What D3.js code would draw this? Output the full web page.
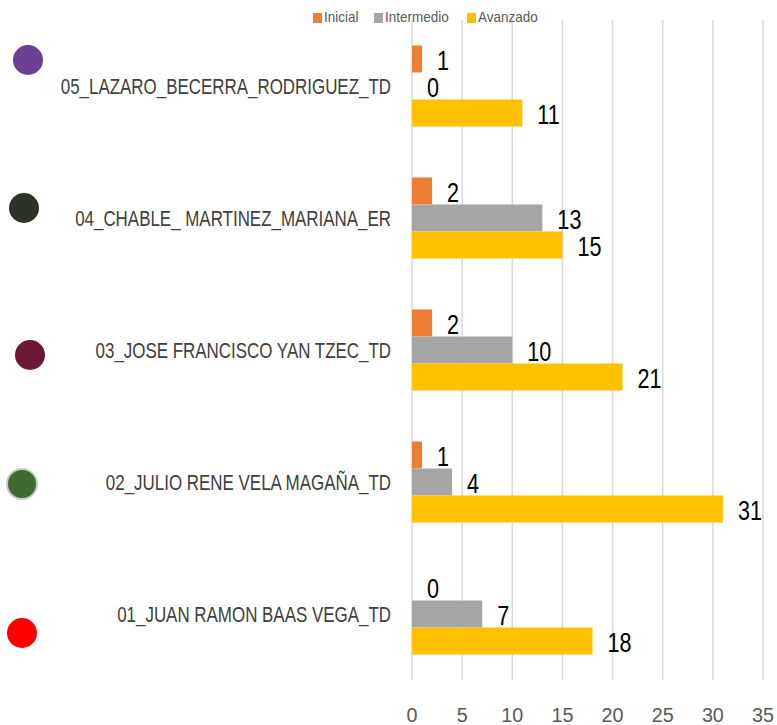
<!DOCTYPE html>
<html>
<head>
<meta charset="utf-8">
<script src="https://cdn.jsdelivr.net/npm/d3@7"></script>
<style>
  body { margin: 0; background: #fff; }
  svg text { font-family: "Liberation Sans", Arial, sans-serif; }
</style>
</head>
<body>
<svg id="chart" width="777" height="725"></svg>
<script>
// categories top to bottom
const teachers = [
  '05_LAZARO_BECERRA_RODRIGUEZ_TD',
  '04_CHABLE_ MARTINEZ_MARIANA_ER',
  '03_JOSE FRANCISCO YAN TZEC_TD',
  '02_JULIO RENE VELA MAGAÑA_TD',
  '01_JUAN RAMON BAAS VEGA_TD'
];
const levels = ['Inicial', 'Intermedio', 'Avanzado'];
const inicial = [1, 2, 2, 1, 0];
const intermedio = [0, 13, 10, 4, 7];
const avanzado = [11, 15, 21, 31, 18];
const xTicks = [0, 5, 10, 15, 20, 25, 30, 35];

const levelColors = ['#ED7D31', '#A5A5A5', '#FFC000'];
const dotColors = ['#6A3F94', '#2B3328', '#6C1836', '#3D6B30', '#FF0000'];
// decorative dot placement relative to the group centre
const dotDx = [28, 24, 30, 22, 22];
const dotDy = [-26, -10, 5, 2, 19];

const series = [inicial, intermedio, avanzado];

const svg = d3.select('#chart');

const x = d3.scaleLinear().domain([0, 35]).range([412, 763]);
const y = d3.scaleBand().domain(teachers).range([20, 680]).paddingInner(0.386).paddingOuter(0.193);
const ySub = d3.scaleBand().domain(levels).range([0, y.bandwidth()]);
const color = d3.scaleOrdinal().domain(levels).range(levelColors);

// squeeze text horizontally a bit (narrow office font look)
const place = (sel, fx, fy, sx) =>
  sel.attr('transform', (d, i) => 'translate(' + fx(d, i) + ',' + fy(d, i) + ') scale(' + sx + ',1)');

// gridlines
svg.append('g')
  .selectAll('line')
  .data(xTicks)
  .join('line')
  .attr('x1', d => x(d)).attr('x2', d => x(d))
  .attr('y1', 20).attr('y2', 680)
  .attr('stroke', '#D9D9D9')
  .attr('stroke-width', 1.5);

// x tick labels
svg.append('g')
  .selectAll('text')
  .data(xTicks)
  .join('text')
  .text(d => d)
  .attr('text-anchor', 'middle')
  .attr('font-size', 21)
  .attr('fill', '#595959')
  .call(place, d => x(d), () => 722, 0.94);

// bars
const rows = teachers.map((t, i) => ({ t, vals: series.map((s, j) => ({ level: levels[j], v: s[i] })) }));

const group = svg.append('g')
  .selectAll('g')
  .data(rows)
  .join('g')
  .attr('transform', d => 'translate(0,' + y(d.t) + ')');

group.selectAll('rect')
  .data(d => d.vals)
  .join('rect')
  .attr('x', x(0))
  .attr('y', d => ySub(d.level))
  .attr('width', d => x(d.v) - x(0))
  .attr('height', ySub.bandwidth())
  .attr('fill', d => color(d.level));

// value labels
group.selectAll('text')
  .data(d => d.vals)
  .join('text')
  .text(d => d.v)
  .attr('font-size', 27)
  .attr('fill', '#000')
  .call(place, d => x(d.v) + 15, d => ySub(d.level) + ySub.bandwidth() / 2 + 11, 0.8);

// category labels
svg.append('g')
  .selectAll('text')
  .data(teachers)
  .join('text')
  .text(d => d)
  .attr('text-anchor', 'end')
  .attr('font-size', 22)
  .attr('fill', '#404040')
  .call(place, () => 391, d => y(d) + y.bandwidth() / 2 + 8, 0.77);

// decorative dots
svg.append('g')
  .selectAll('circle')
  .data(teachers)
  .join('circle')
  .attr('cx', (d, i) => dotDx[i])
  .attr('cy', (d, i) => y(d) + y.bandwidth() / 2 + dotDy[i])
  .attr('r', 15)
  .attr('fill', (d, i) => dotColors[i])
  .attr('stroke', (d, i) => i === 3 ? '#C8C8C8' : 'none')
  .attr('stroke-width', 2);

// legend
const legendX = [313, 374, 467];
const legend = svg.append('g')
  .selectAll('g')
  .data(levels)
  .join('g')
  .attr('transform', (d, i) => 'translate(' + legendX[i] + ',0)');
legend.append('rect')
  .attr('x', 0).attr('y', 13)
  .attr('width', 9).attr('height', 10)
  .attr('fill', d => color(d));
legend.append('text')
  .text(d => d)
  .attr('font-size', 15)
  .attr('fill', '#595959')
  .call(place, () => 11, () => 22, 0.9);
</script>
</body>
</html>
